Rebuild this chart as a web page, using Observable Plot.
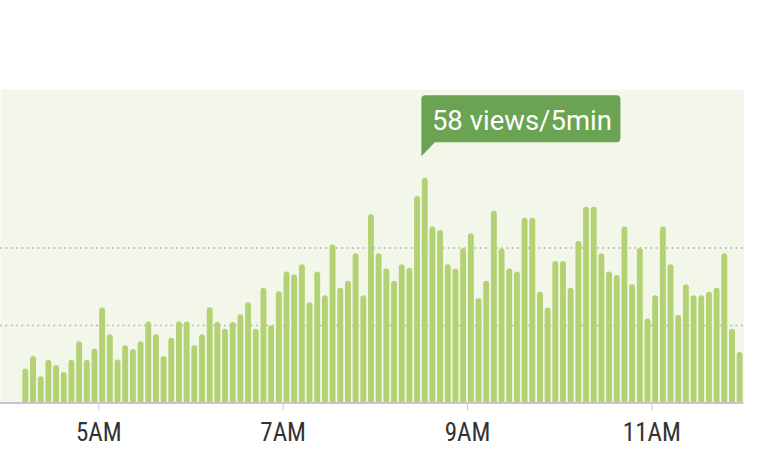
<!DOCTYPE html>
<html>
<head>
<meta charset="utf-8">
<script src="https://cdn.jsdelivr.net/npm/d3@7"></script>
<script src="https://cdn.jsdelivr.net/npm/@observablehq/plot@0.6"></script>
<style>
html, body { margin: 0; padding: 0; background: #ffffff; }
#chart svg { display: block; }
</style>
</head>
<body>
<div id="chart"></div>
<script>
// ---- data ----
const firstBinStart = "04:10";       // first 5-minute bin
const binMinutes = 5;
const views = [
  8.8, 12.0, 6.8, 11.0, 9.7, 7.9, 11.0, 15.8, 11.0, 13.9,
  24.5, 17.6, 11.1, 14.8, 13.8, 15.8, 20.9, 17.6, 12.0, 16.7,
  20.9, 20.9, 14.8, 17.6, 24.6, 20.8, 19.0, 20.8, 22.8, 25.9,
  19.0, 29.6, 19.9, 28.7, 33.8, 33.0, 35.7, 25.9, 33.8, 27.7,
  40.8, 29.6, 31.4, 38.5, 27.7, 48.6, 38.5, 34.6, 31.4, 35.7,
  34.8, 53.3, 58, 45.4, 44.5, 35.7, 34.6, 39.8, 43.7, 26.9,
  31.4, 49.5, 39.8, 34.6, 33.8, 47.7, 47.7, 28.6, 24.5, 36.5,
  36.5, 29.6, 41.7, 50.5, 50.5, 38.5, 33.8, 32.9, 45.4, 30.5,
  39.9, 21.7, 27.7, 45.4, 35.7, 22.6, 30.5, 27.7, 27.7, 28.6,
  29.6, 38.5, 19.0, 13.0
];
const tickHours = [5, 7, 9, 11];
const tickLabels = ["5AM", "7AM", "9AM", "11AM"];
const gridValues = [20, 40];
const domainStart = "03:56";
const domainEnd = "12:00";
const unitLabel = "views/5min";

// ---- helpers ----
const day = (hhmm) => {
  const [h, m] = hhmm.split(":").map(Number);
  return new Date(Date.UTC(2024, 0, 1, h, m));
};
const t0 = day(firstBinStart).getTime();
const data = views.map((v, i) => ({
  start: new Date(t0 + i * binMinutes * 60000),
  end: new Date(t0 + (i + 1) * binMinutes * 60000),
  views: v
}));
const peak = data.reduce((a, b) => (b.views > a.views ? b : a));
const tickDates = tickHours.map(h => new Date(Date.UTC(2024, 0, 1, h, 0)));

// callout shape (pointer at bottom-left), drawn relative to the anchor point
const callout = {
  draw(ctx) {
    const r = 4, R = 199, T = -83, B = -36, tip = -22, p = 13.5;
    ctx.moveTo(0, tip);
    ctx.lineTo(0, T + r);
    ctx.quadraticCurveTo(0, T, r, T);
    ctx.lineTo(R - r, T);
    ctx.quadraticCurveTo(R, T, R, T + r);
    ctx.lineTo(R, B - r);
    ctx.quadraticCurveTo(R, B, R - r, B);
    ctx.lineTo(p, B);
    ctx.closePath();
  }
};

const chart = Plot.plot({
  width: 764,
  height: 472,
  marginTop: 89,
  marginBottom: 69.5,
  marginLeft: 0,
  marginRight: 20.5,
  style: { background: "#ffffff", overflow: "visible" },
  x: { type: "utc", domain: [day(domainStart), day(domainEnd)], axis: null },
  y: { domain: [0, 80.9], axis: null },
  marks: [
    Plot.frame({ fill: "#f3f7e9", stroke: "none" }),
    Plot.ruleY(gridValues, { stroke: "#b8b8b8", strokeWidth: 1.5, strokeDasharray: "2,3.33" }),
    Plot.rect(data, {
      x1: "start", x2: "end", y1: -1, y2: "views",
      insetLeft: 0.9, insetRight: 0.9, rx: 2.9,
      fill: "#b2d273", clip: true
    }),
    Plot.ruleY([0], { stroke: "#c5c6cc", strokeWidth: 2 }),
    Plot.axisX({ ticks: tickDates, tickSize: 8, tickFormat: () => "", stroke: "#cbccd0" }),
    Plot.axisX({
      ticks: tickDates, tickSize: 0, tickPadding: 20,
      tickFormat: d => tickLabels[tickHours.indexOf(d.getUTCHours())],
      fill: "#333333", fontSize: 25, fontFamily: "'Liberation Sans Narrow', 'Roboto Condensed', Roboto, sans-serif"
    }),
    Plot.dot([peak], { x: "start", y: "views", symbol: callout, r: 10, fill: "#6aa352", stroke: "none" }),
    Plot.text([peak], {
      x: "start", y: "views",
      text: d => `${d.views} ${unitLabel}`,
      textAnchor: "start", dx: 10.5, dy: -57,
      fill: "#ffffff", fontSize: 27.5, fontFamily: "Roboto, sans-serif"
    })
  ]
});
document.getElementById("chart").appendChild(chart);
</script>
</body>
</html>
